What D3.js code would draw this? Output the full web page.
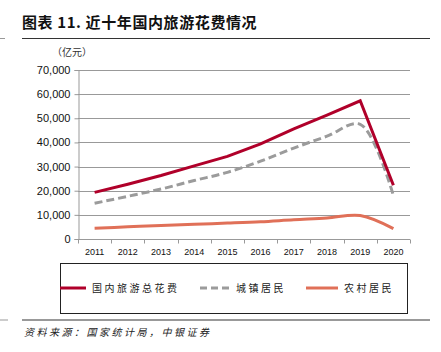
<!DOCTYPE html>
<html>
<head>
<meta charset="utf-8">
<script src="https://cdn.jsdelivr.net/npm/d3@7"></script>
<style>
  body { margin: 0; background: #fff; }
  text { font-family: "Liberation Sans", Arial, sans-serif; }
  .cjk { font-family: "Noto Sans CJK SC", sans-serif; }
</style>
</head>
<body>
<div id="viz"></div>
<script>
const width = 441;
const height = 352;
const margin = {top: 70, right: 31, bottom: 113, left: 78};

const years = ['2011', '2012', '2013', '2014', '2015', '2016', '2017', '2018', '2019', '2020'];
const totalSpend = [19305, 22706, 26276, 30312, 34195, 39390, 45661, 51278, 57251, 22286];
const urbanSpend = [14809, 17678, 20692, 24220, 27611, 32241, 37673, 42590, 47509, 17967];
const ruralSpend = [4496, 5028, 5584, 6092, 6584, 7147, 7988, 8688, 9742, 4319];
const yTicks = [0, 10000, 20000, 30000, 40000, 50000, 60000, 70000];

const svg = d3.select('#viz')
    .append('svg')
        .attr('width', width)
        .attr('height', height);

// title + rules
svg.append('text')
    .attr('class', 'cjk')
    .attr('x', 22)
    .attr('y', 28)
    .attr('font-size', 15)
    .attr('font-weight', 'bold')
    .attr('letter-spacing', 0.6)
    .attr('fill', '#111')
    .text('图表 11. 近十年国内旅游花费情况');
svg.append('line').attr('x1', 22).attr('x2', 430).attr('y1', 38.5).attr('y2', 38.5)
    .attr('stroke', '#333').attr('stroke-width', 1);
svg.append('line').attr('x1', 0).attr('x2', 5).attr('y1', 38.5).attr('y2', 38.5)
    .attr('stroke', '#999').attr('stroke-width', 1);

svg.append('text')
    .attr('class', 'cjk')
    .attr('x', 52)
    .attr('y', 56)
    .attr('font-size', 10)
    .attr('fill', '#333')
    .text('（亿元）');

const x = d3.scaleBand()
    .domain(years)
    .range([margin.left, width - margin.right]);
const y = d3.scaleLinear()
    .domain([0, 70000])
    .range([height - margin.bottom, margin.top]);

// gridlines
svg.append('g')
    .selectAll('line')
    .data(yTicks.slice(1))
    .join('line')
        .attr('x1', margin.left)
        .attr('x2', width - margin.right)
        .attr('y1', d => Math.round(y(d)) + 0.5)
        .attr('y2', d => Math.round(y(d)) + 0.5)
        .attr('stroke', '#999')
        .attr('stroke-width', 1);

// y axis
const yAxis = svg.append('g')
    .attr('transform', `translate(${margin.left + 0.5},0)`)
    .call(d3.axisLeft(y).tickValues(yTicks).tickSize(4).tickFormat(d3.format(',')));
yAxis.select('.domain').attr('stroke', '#999');
yAxis.selectAll('.tick line').attr('stroke', '#999');
yAxis.selectAll('.tick text')
    .attr('font-size', 11)
    .attr('fill', '#111')
    .attr('x', -8)
    .attr('font-family', '"Liberation Sans", Arial, sans-serif');

// x axis (ticks at band edges)
const xAxisGroup = svg.append('g')
    .attr('transform', `translate(0,${Math.round(height - margin.bottom) + 0.5})`);
xAxisGroup.append('line')
    .attr('x1', margin.left).attr('x2', width - margin.right)
    .attr('stroke', '#999');
xAxisGroup.selectAll('.edge')
    .data(years.concat(['end']))
    .join('line')
        .attr('class', 'edge')
        .attr('x1', (d, i) => Math.round(margin.left + i * x.bandwidth()) + 0.5)
        .attr('x2', (d, i) => Math.round(margin.left + i * x.bandwidth()) + 0.5)
        .attr('y1', 0).attr('y2', 4)
        .attr('stroke', '#999');
xAxisGroup.selectAll('text')
    .data(years)
    .join('text')
        .attr('x', d => x(d) + x.bandwidth() / 2)
        .attr('y', 15)
        .attr('text-anchor', 'middle')
        .attr('font-size', 9)
        .attr('fill', '#111')
        .text(d => d);

const cx = (d, i) => x(years[i]) + x.bandwidth() / 2;

// smoothed series use catmull-rom, like the Excel-style smoothing in the source
const series = [
    {name: '国内旅游总花费', values: totalSpend, color: '#B0002A', dash: null, curve: d3.curveLinear},
    {name: '城镇居民', values: urbanSpend, color: '#9B9B9B', dash: '8,4', curve: d3.curveCatmullRom},
    {name: '农村居民', values: ruralSpend, color: '#E07058', dash: null, curve: d3.curveCatmullRom}
];

series.slice().reverse().forEach(s => {
    const line = d3.line()
        .x(cx)
        .y(d => y(d))
        .curve(s.curve);
    svg.append('path')
        .attr('d', line(s.values))
        .attr('fill', 'none')
        .attr('stroke', s.color)
        .attr('stroke-width', 3)
        .attr('stroke-dasharray', s.dash);
});

// legend box
svg.append('rect')
    .attr('x', 60.5).attr('y', 263.5)
    .attr('width', 347).attr('height', 50)
    .attr('fill', 'none')
    .attr('stroke', '#222')
    .attr('stroke-width', 1);

const legendX = [60, 200, 306];
const legendLen = [26, 30, 32];
series.forEach((s, i) => {
    const g = svg.append('g').attr('transform', `translate(${legendX[i]},288)`);
    g.append('line')
        .attr('x1', 0).attr('x2', legendLen[i])
        .attr('stroke', s.color)
        .attr('stroke-width', 3)
        .attr('stroke-dasharray', s.dash ? '7,4' : null);
    g.append('text')
        .attr('class', 'cjk')
        .attr('x', legendLen[i] + 6)
        .attr('y', 4)
        .attr('font-size', 10)
        .attr('letter-spacing', 2.5)
        .attr('fill', '#222')
        .text(s.name);
});

// bottom rule + source
svg.append('line').attr('x1', 22).attr('x2', 430).attr('y1', 320).attr('y2', 320)
    .attr('stroke', '#999').attr('stroke-width', 2);
svg.append('line').attr('x1', 0).attr('x2', 8).attr('y1', 320).attr('y2', 320)
    .attr('stroke', '#999').attr('stroke-width', 1);
svg.append('text')
    .attr('class', 'cjk')
    .attr('x', 24)
    .attr('y', 336)
    .attr('font-size', 10)
    .attr('font-style', 'italic')
    .attr('letter-spacing', 2.5)
    .attr('fill', '#222')
    .text('资料来源：国家统计局，中银证券');
</script>
</body>
</html>
